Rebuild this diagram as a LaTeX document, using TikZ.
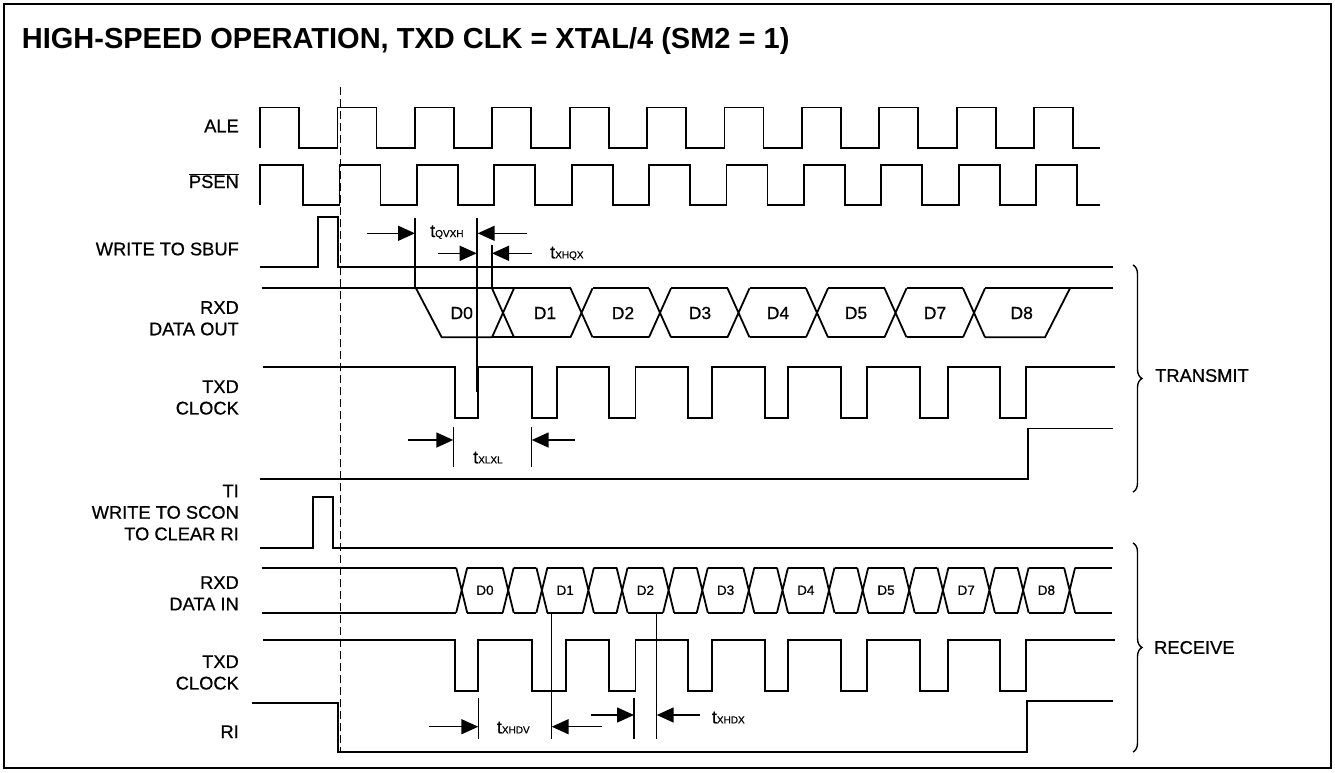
\documentclass[tikz,border=0pt]{standalone}
\usepackage{fontspec}
\setmainfont{Liberation Sans}
\newfontfamily\sigfont{Liberation Sans}[FakeBold=0.7]
\usetikzlibrary{arrows.meta,decorations.pathreplacing}

\tikzset{
  sig/.style={line width=1.8pt},
  ref/.style={line width=1.5pt},
  tarr/.style={line width=1.5pt,-{Triangle[length=17pt,width=15pt]}},
  lbl/.style={anchor=east,align=right,inner sep=0pt,font=\sigfont\fontsize{18.3}{21.5}\selectfont},
  dat/.style={inner sep=0pt,font=\sigfont\fontsize{17.5}{20}\selectfont},
  dats/.style={inner sep=0pt,font=\sigfont\fontsize{13.5}{16}\selectfont},
  tlbl/.style={anchor=base west,inner sep=0pt,font=\sigfont\fontsize{18}{20}\selectfont},
  grp/.style={decorate,decoration={brace,amplitude=9pt},line width=1.4pt},
}
\newcommand{\tsub}[1]{t{\fontsize{10}{12}\selectfont #1}}

\begin{document}
\begin{tikzpicture}[x=1pt,y=-1pt]
\useasboundingbox (0,0) rectangle (1335,772);
\draw[line width=1.8pt] (4,4) rectangle (1331,768);
\node[anchor=west,inner sep=0pt,font=\bfseries\fontsize{29}{32}\selectfont] (title) at (21.7,40.5)
  {HIGH-SPEED OPERATION, TXD CLK = XTAL/4 (SM2 = 1)};

%%% signal names
\node[lbl] (ale) at (239,126) {ALE};
\node[lbl,anchor=base east] (psen) at (239,188) {$\overline{\mbox{\sigfont PSEN}}$};
\node[lbl] (sbuf) at (239,249) {WRITE TO SBUF};
\node[lbl] (dout) at (239,318.3) {RXD\\DATA OUT};
\node[lbl] (txclk) at (239,397.5) {TXD\\CLOCK};
\node[lbl] (scon) at (239,512.5) {TI\\WRITE TO SCON\\TO CLEAR RI};
\node[lbl] (din) at (239,593.3) {RXD\\DATA IN};
\node[lbl] (rxclk) at (239,672.5) {TXD\\CLOCK};
\node[lbl] (ri) at (239,731.7) {RI};

%%% ALE and PSEN
\draw[sig] (260,148) \foreach \k in {0,...,10}{ -- ({260+77.4*\k},148) -- ({260+77.4*\k},107.5)
  -- ({299+77.4*\k},107.5) -- ({299+77.4*\k},148) } -- (1100,148);
\draw[sig] (260,205) -- (260,165) -- (303,165) -- (303,205)
  \foreach \k in {1,...,10}{ -- ({262+77.4*\k},205) -- ({262+77.4*\k},165)
  -- ({303+77.4*\k},165) -- ({303+77.4*\k},205) } -- (1100,205);

%%% write to sbuf, TI, write to scon, RI
\draw[sig] (260,267) -- (317.7,267) -- (317.7,216.7) -- (338.3,216.7) -- (338.3,267) -- (1113,267);
\draw[sig] (260,479) -- (1027.7,479) -- (1027.7,428.5) -- (1113,428.5);
\draw[sig] (260,547.7) -- (313.3,547.7) -- (313.3,497.3) -- (333.3,497.3) -- (333.3,547.7) -- (1113,547.7);
\draw[sig] (251.7,702.7) -- (338.3,702.7) -- (338.3,751.7) -- (1027.3,751.7) -- (1027.3,700.7) -- (1113,700.7);

%%% TXD clocks
\draw[sig] (263,367) \foreach \f/\r in {455/478.3,531.7/556.7,609/635.5,688.3/711.7,765/788.3,840.7/866.7,920/947.7,1000/1026}
  { -- (\f,367) -- (\f,418) -- (\r,418) -- (\r,367) } -- (1115,367);
\draw[sig] (263,640) \foreach \f/\r in {455/478.3,531.7/566,609/635.5,688.3/711.7,765/788.3,840.7/866.7,920/947.7,1000/1026}
  { -- (\f,640) -- (\f,690.7) -- (\r,690.7) -- (\r,640) } -- (1115,640);

%%% RXD data out
\draw[sig] (261.7,288.3) -- (492,288.3);
\draw[sig] (416,288.3) -- (441.7,337.3) -- (492,337.3);
\foreach \c [remember=\c as \p (initially 503)] in {503,581.5,660,738.5,817,895.5,974}{
  \draw[sig] ({\c-11},288.3) -- ({\c+11},337.3) ({\c-11},337.3) -- ({\c+11},288.3);
  \draw[sig] ({\p+11},288.3) -- ({\c-11},288.3) ({\p+11},337.3) -- ({\c-11},337.3);
}
\draw[sig] (985,288.3) -- (1113,288.3);
\draw[sig] (985,337.3) -- (1045,337.3) -- (1070,288.3);
\foreach \x/\d in {461.7/0,545/1,623/2,700/3,778/4,856/5,935/7,1021.7/8}
  \node[dat] (out\d) at (\x,313) {D\d};

%%% RXD data in
\foreach \c [remember=\c as \p (initially 256.2)] in {461.7,508.2,541.9,588.4,622.1,668.6,702.3,748.8,782.5,829,862.7,909.2,942.9,989.4,1023.1,1069.6}{
  \draw[sig] ({\c-5.5},567.7) -- ({\c+5.5},612.7) ({\c-5.5},612.7) -- ({\c+5.5},567.7);
  \draw[sig] ({\p+5.5},567.7) -- ({\c-5.5},567.7) ({\p+5.5},612.7) -- ({\c-5.5},612.7);
}
\draw[sig] (1075.1,567.7) -- (1111.7,567.7) (1075.1,612.7) -- (1111.7,612.7);
\foreach \x/\d in {485/0,565.2/1,645.4/2,725.6/3,805.8/4,886/5,966.2/7,1046.4/8}
  \node[dats] (in\d) at (\x,590.2) {D\d};

%%% dashed reference
\draw[line width=1.4pt,dash pattern=on 8pt off 4pt] (340.7,87) -- (340.7,751.7);

%%% timing marks
\draw[ref] (415,218) -- (415,288.3);
\draw[ref] (477,218) -- (477,392);
\draw[ref] (492,245) -- (492,288.3);
\draw[ref] (453.3,426.7) -- (453.3,466.7) (531.7,426.7) -- (531.7,466.7);
\draw[ref] (478.3,698.3) -- (478.3,739.3) (634,698.3) -- (634,739.3);
\draw[ref] (551.7,612.7) -- (551.7,739.3) (656.7,612.7) -- (656.7,739.3);

\coordinate (qvxh1) at (366.7,233.3); \coordinate (qvxh2) at (415,233.3);
\coordinate (qvxh3) at (526.7,233.3); \coordinate (qvxh4) at (477.7,233.3);
\draw[tarr] (qvxh1) -- (qvxh2);
\draw[tarr] (qvxh3) -- (qvxh4);
\node[tlbl] (tqvxh) at (430,237) {\tsub{QVXH}};

\coordinate (xhqx1) at (438.3,253.3); \coordinate (xhqx2) at (476.7,253.3);
\coordinate (xhqx3) at (531.7,253.3); \coordinate (xhqx4) at (492,253.3);
\draw[tarr] (xhqx1) -- (xhqx2);
\draw[tarr] (xhqx3) -- (xhqx4);
\node[tlbl] (txhqx) at (550,258.3) {\tsub{XHQX}};

\coordinate (xlxl1) at (408.3,440); \coordinate (xlxl2) at (453.3,440);
\coordinate (xlxl3) at (575,440); \coordinate (xlxl4) at (531.7,440);
\draw[tarr] (xlxl1) -- (xlxl2);
\draw[tarr] (xlxl3) -- (xlxl4);
\node[tlbl] (txlxl) at (473,463.3) {\tsub{XLXL}};

\coordinate (xhdv1) at (429.3,726.7); \coordinate (xhdv2) at (478.3,726.7);
\coordinate (xhdv3) at (601.7,726.7); \coordinate (xhdv4) at (551.7,726.7);
\draw[tarr] (xhdv1) -- (xhdv2);
\draw[tarr] (xhdv3) -- (xhdv4);
\node[tlbl] (txhdv) at (496.7,733.3) {\tsub{XHDV}};

\coordinate (xhdx1) at (590.7,715); \coordinate (xhdx2) at (634,715);
\coordinate (xhdx3) at (700,715); \coordinate (xhdx4) at (656.7,715);
\draw[tarr] (xhdx1) -- (xhdx2);
\draw[tarr] (xhdx3) -- (xhdx4);
\node[tlbl] (txhdx) at (711.7,723.3) {\tsub{XHDX}};

%%% groups
\draw[grp] (1133,265) -- (1133,492);
\node[anchor=west,inner sep=0pt,font=\sigfont\fontsize{18.3}{20}\selectfont] (tx) at (1155,375.5) {TRANSMIT};
\draw[grp] (1133,543) -- (1133,752);
\node[anchor=west,inner sep=0pt,font=\sigfont\fontsize{18.3}{20}\selectfont] (rx) at (1154,647.5) {RECEIVE};
\end{tikzpicture}
\end{document}
